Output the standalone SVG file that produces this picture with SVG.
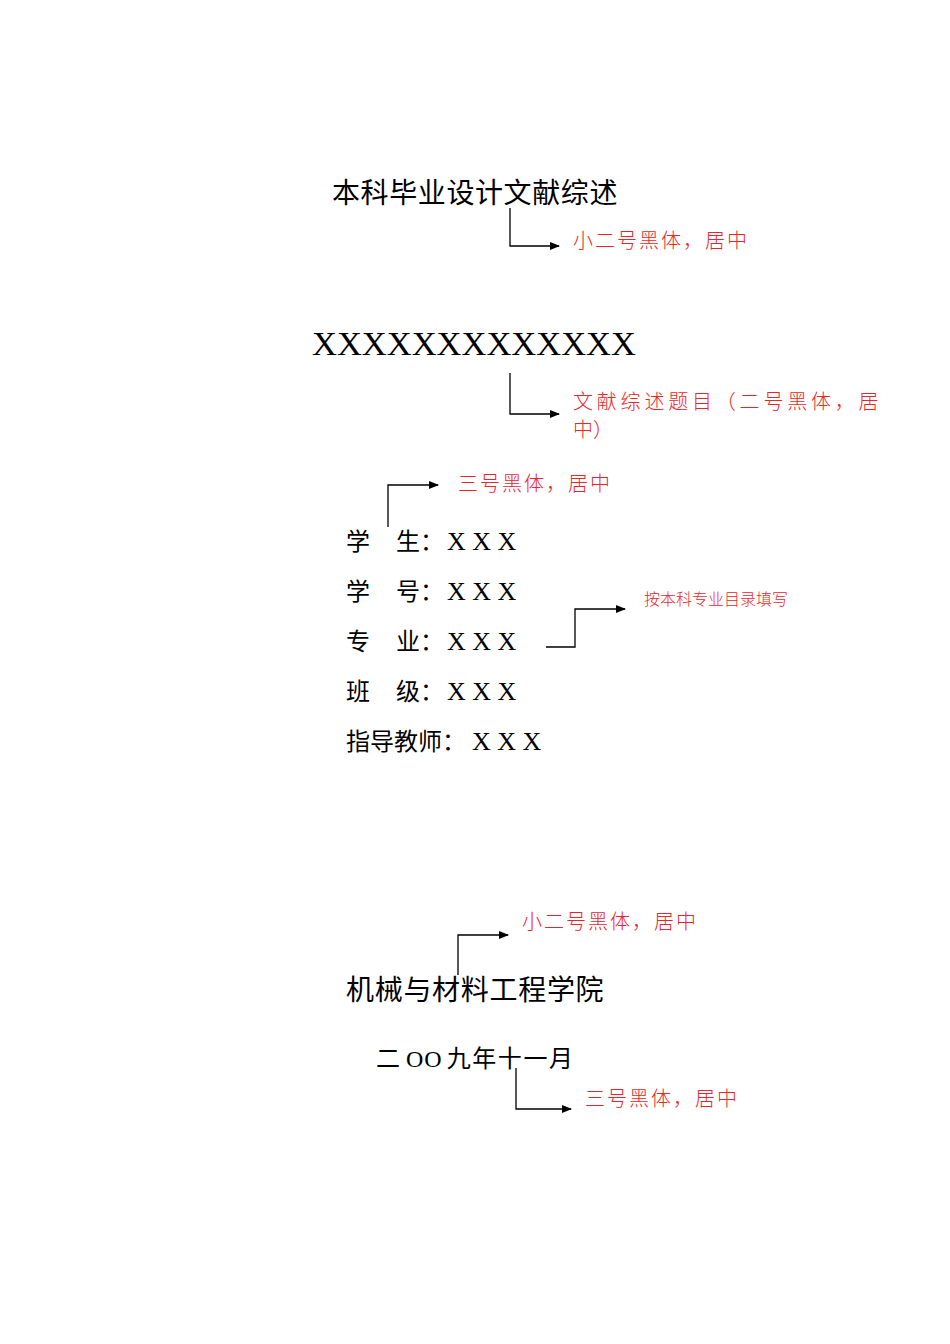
<svg xmlns="http://www.w3.org/2000/svg" width="950" height="1344" viewBox="0 0 950 1344">
<style>
.cn{font-family:"Liberation Sans","Noto Sans CJK SC",sans-serif;fill:#000}
.sr{font-family:"Liberation Serif","Noto Sans CJK SC",serif;fill:#000}
.red{font-family:"Noto Sans CJK SC",sans-serif;fill:#e8252b;font-size:20px;font-weight:300}
.ln{fill:none;stroke:#000;stroke-width:1.3}
</style>
<defs><marker id="a" markerWidth="10" markerHeight="8" refX="9" refY="4" orient="auto" markerUnits="userSpaceOnUse"><path d="M0,0L10,4L0,8z" fill="#000"/></marker></defs>
<rect width="950" height="1344" fill="#fff"/>
<g id="title"><text class="cn" x="332" y="203" font-size="28" letter-spacing="0.6">本科毕业设计文献综述</text></g>
<g id="note1"><text class="red" x="573" y="248" letter-spacing="2">小二号黑体，居中</text></g>
<g id="topic"><text class="sr" x="312" y="355" font-size="34.5">XXXXXXXXXXXXX</text></g>
<g id="note2"><text class="red" x="573" y="409" letter-spacing="3.8">文献综述题目（二号黑体，居</text><text class="red" x="573" y="437">中）</text></g>
<g id="note3"><text class="red" x="458" y="491" letter-spacing="2">三号黑体，居中</text></g>
<g id="fields" class="cn" font-size="24">
<text x="346" y="550">学<tspan x="396">生：</tspan><tspan class="sr" x="447" font-size="26">X X X</tspan></text>
<text x="346" y="600">学<tspan x="396">号：</tspan><tspan class="sr" x="447" font-size="26">X X X</tspan></text>
<text x="346" y="650">专<tspan x="396">业：</tspan><tspan class="sr" x="447" font-size="26">X X X</tspan></text>
<text x="346" y="700">班<tspan x="396">级：</tspan><tspan class="sr" x="447" font-size="26">X X X</tspan></text>
<text x="346" y="750">指导教师：<tspan class="sr" x="472" font-size="26">X X X</tspan></text>
</g>
<g id="note4"><text class="red" x="644" y="605" style="font-size:16px">按本科专业目录填写</text></g>
<g id="school"><text class="cn" x="346" y="1000" font-size="28" letter-spacing="0.7">机械与材料工程学院</text></g>
<g id="note5"><text class="red" x="522" y="929" letter-spacing="2">小二号黑体，居中</text></g>
<g id="date"><text class="cn" x="376" y="1067" font-size="24">二<tspan class="sr" dx="6" letter-spacing="1">OO</tspan><tspan dx="4" letter-spacing="1.6">九年十一月</tspan></text></g>
<g id="note6"><text class="red" x="585" y="1106" letter-spacing="2">三号黑体，居中</text></g>
<g id="connectors">
<polyline class="ln" points="510,208 510,246 559,246" marker-end="url(#a)"/>
<polyline class="ln" points="510,373 510,414 559,414" marker-end="url(#a)"/>
<polyline class="ln" points="388,527 388,485 438,485" marker-end="url(#a)"/>
<polyline class="ln" points="546,647 575,647 575,609 625,609" marker-end="url(#a)"/>
<polyline class="ln" points="458,975 458,935 508,935" marker-end="url(#a)"/>
<polyline class="ln" points="516,1068 516,1109 571,1109" marker-end="url(#a)"/>
</g>
</svg>
